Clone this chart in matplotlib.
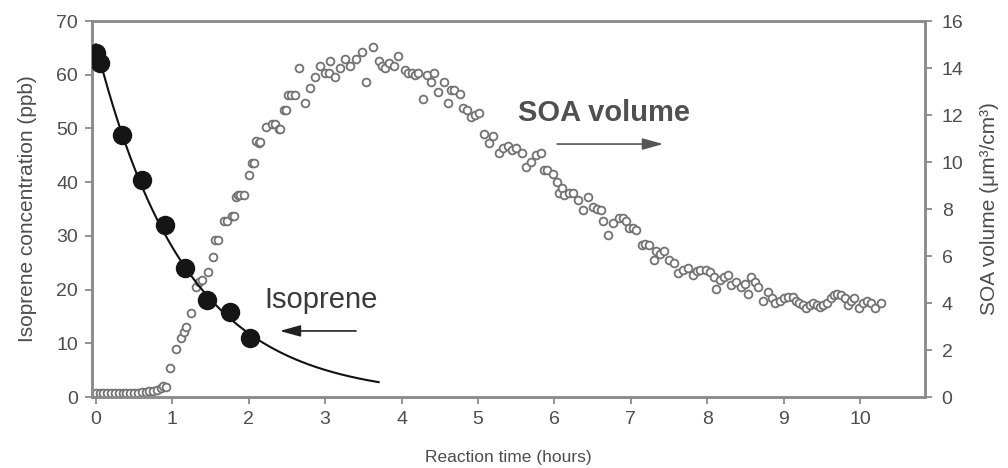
import numpy as np
import matplotlib.pyplot as plt

plt.rcParams['font.family'] = ['Liberation Sans', 'DejaVu Sans']

# isoprene decay (ppb) vs reaction time (h)
iso_t = [0.0, 0.05, 0.34, 0.60, 0.90, 1.17, 1.45, 1.75, 2.02]
iso_c = [64.0, 62.2, 48.8, 40.4, 32.0, 24.0, 18.0, 15.9, 11.0]

# SOA volume (um3/cm3) vs reaction time (h)
soa_t = [0.00, 0.05, 0.10, 0.15, 0.20, 0.25, 0.30, 0.35, 0.40, 0.45, 0.50, 0.55,
         0.60, 0.65, 0.70, 0.75, 0.80, 0.85, 0.88, 0.92, 0.97, 1.05, 1.12, 1.15,
         1.18, 1.25, 1.31, 1.35, 1.39, 1.47, 1.53, 1.56, 1.60, 1.68, 1.72, 1.78,
         1.81, 1.83, 1.86, 1.89, 1.94, 2.00, 2.04, 2.07, 2.10, 2.13, 2.15, 2.22,
         2.30, 2.34, 2.39, 2.41, 2.46, 2.49, 2.52, 2.56, 2.60, 2.66, 2.74, 2.80,
         2.87, 2.93, 3.00, 3.05, 3.06, 3.13, 3.19, 3.26, 3.32, 3.41, 3.48, 3.54,
         3.63, 3.70, 3.75, 3.78, 3.84, 3.90, 3.96, 4.04, 4.09, 4.14, 4.17, 4.22,
         4.28, 4.33, 4.39, 4.42, 4.48, 4.55, 4.61, 4.65, 4.69, 4.76, 4.81, 4.86,
         4.91, 4.96, 5.02, 5.08, 5.15, 5.20, 5.27, 5.33, 5.39, 5.44, 5.50, 5.57,
         5.63, 5.70, 5.76, 5.82, 5.87, 5.90, 5.98, 6.03, 6.06, 6.10, 6.13, 6.19,
         6.25, 6.31, 6.38, 6.44, 6.51, 6.56, 6.61, 6.64, 6.70, 6.77, 6.85, 6.90,
         6.94, 6.98, 7.03, 7.07, 7.14, 7.19, 7.24, 7.30, 7.33, 7.38, 7.43, 7.50,
         7.56, 7.62, 7.68, 7.75, 7.82, 7.86, 7.91, 7.98, 8.03, 8.09, 8.11, 8.17,
         8.22, 8.27, 8.31, 8.38, 8.44, 8.49, 8.53, 8.57, 8.62, 8.66, 8.73, 8.80,
         8.85, 8.89, 8.95, 9.00, 9.06, 9.12, 9.16, 9.20, 9.25, 9.29, 9.34, 9.38,
         9.43, 9.48, 9.52, 9.57, 9.62, 9.66, 9.70, 9.75, 9.80, 9.84, 9.88, 9.92,
         9.98, 10.04, 10.09, 10.14, 10.20, 10.27]
soa_v = [0.15, 0.15, 0.16, 0.15, 0.17, 0.16, 0.18, 0.17, 0.18, 0.17, 0.19, 0.18,
         0.20, 0.22, 0.24, 0.26, 0.30, 0.38, 0.45, 0.42, 1.23, 2.04, 2.50, 2.75,
         3.00, 3.57, 4.70, 4.90, 5.00, 5.30, 5.96, 6.70, 6.70, 7.50, 7.50, 7.70,
         7.70, 8.50, 8.60, 8.60, 8.60, 9.45, 9.96, 9.96, 10.9, 10.8, 10.85, 11.5,
         11.6, 11.6, 11.4, 11.4, 12.2, 12.2, 12.85, 12.85, 12.85, 14.0, 12.5, 13.15,
         13.6, 14.1, 13.8, 13.8, 14.3, 13.6, 14.0, 14.4, 14.1, 14.4, 14.7, 13.4,
         14.9, 14.3, 14.1, 14.0, 14.2, 14.1, 14.5, 13.9, 13.8, 13.8, 13.7, 13.8,
         12.7, 13.7, 13.4, 13.8, 13.0, 13.4, 12.5, 13.06, 13.06, 12.9, 12.3, 12.2,
         11.9, 12.0, 12.1, 11.2, 10.8, 11.1, 10.4, 10.6, 10.7, 10.5, 10.6, 10.4,
         9.8, 10.0, 10.3, 10.4, 9.66, 9.66, 9.5, 9.15, 8.7, 8.9, 8.6, 8.7,
         8.7, 8.4, 7.96, 8.5, 8.1, 8.0, 7.96, 7.5, 6.9, 7.4, 7.6, 7.6,
         7.5, 7.2, 7.2, 7.1, 6.47, 6.5, 6.47, 5.83, 6.2, 6.1, 6.2, 5.83,
         5.7, 5.28, 5.4, 5.5, 5.2, 5.35, 5.4, 5.4, 5.3, 5.1, 4.6, 5.0,
         5.1, 5.2, 4.77, 4.9, 4.7, 4.8, 4.4, 5.1, 4.9, 4.7, 4.1, 4.46,
         4.2, 4.0, 4.1, 4.2, 4.25, 4.25, 4.1, 4.0, 3.9, 3.8, 3.9, 4.0,
         3.9, 3.83, 3.9, 4.0, 4.2, 4.34, 4.4, 4.34, 4.2, 3.9, 4.1, 4.2,
         3.8, 4.0, 4.1, 4.0, 3.8, 4.0]

grey = '#8a8a8a'
text_grey = '#4d4d4d'

fig = plt.figure(figsize=(10.08, 4.68), dpi=100)
ax1 = fig.add_axes([0.0913, 0.1517, 0.8264, 0.8033])
ax2 = ax1.twinx()

# SOA on the right axis, drawn underneath
ax2.plot(soa_t, soa_v, linestyle='none', marker='o', markersize=5.6,
         markerfacecolor='white', markeredgecolor='#727272', markeredgewidth=1.3)
ax2.set_ylim(0, 16)
ax2.set_yticks(np.arange(0, 17, 2))

# exponential fit through the isoprene points
k, b = np.polyfit(iso_t, np.log(iso_c), 1)
fit_t = np.linspace(0, 3.7, 200)
ax1.plot(fit_t, np.exp(b + k * fit_t), color='#111111', lw=1.5, zorder=3)
ax1.plot(iso_t, iso_c, linestyle='none', marker='o', markersize=13,
         color='#151515', zorder=4)
ax1.set_zorder(ax2.get_zorder() + 1)
ax1.patch.set_visible(False)

ax1.set_xlim(-0.05, 10.85)
ax1.set_ylim(0, 70)
ax1.set_xticks(range(0, 11))
ax1.set_yticks(range(0, 71, 10))

for ax in (ax1, ax2):
    for s in ax.spines.values():
        s.set_color(grey)
        s.set_linewidth(1.8)
    ax.tick_params(colors=grey, labelcolor=text_grey, labelsize=14,
                   length=5, width=1.3, direction='out', pad=5)
ax2.tick_params(pad=7)

ax1.set_xlabel('Reaction time (hours)', color=text_grey, fontsize=12.5, labelpad=16)
ax1.set_ylabel('Isoprene concentration (ppb)', color=text_grey, fontsize=15,
               labelpad=14)
ax2.set_ylabel('SOA volume (μm³/cm³)', color=text_grey, fontsize=15, labelpad=12)

# labels with arrows pointing at the matching axis
ax1.text(5.53, 52.9, 'SOA volume', fontsize=21, color='#505050',
         fontweight='bold', va='center', ha='left')
ax1.annotate('', xy=(7.46, 47.1), xytext=(6.0, 47.1),
             arrowprops=dict(arrowstyle='-|>,head_length=0.9,head_width=0.25',
                             color='#555555', lw=1.2, mutation_scale=14))
ax1.text(2.21, 18.1, 'Isoprene', fontsize=21, color='#3a3a3a',
         va='center', ha='left')
ax1.annotate('', xy=(2.37, 12.3), xytext=(3.44, 12.3),
             arrowprops=dict(arrowstyle='-|>,head_length=0.9,head_width=0.25',
                             color='#222222', lw=1.2, mutation_scale=14))

fig.savefig('out.png', dpi=100)
